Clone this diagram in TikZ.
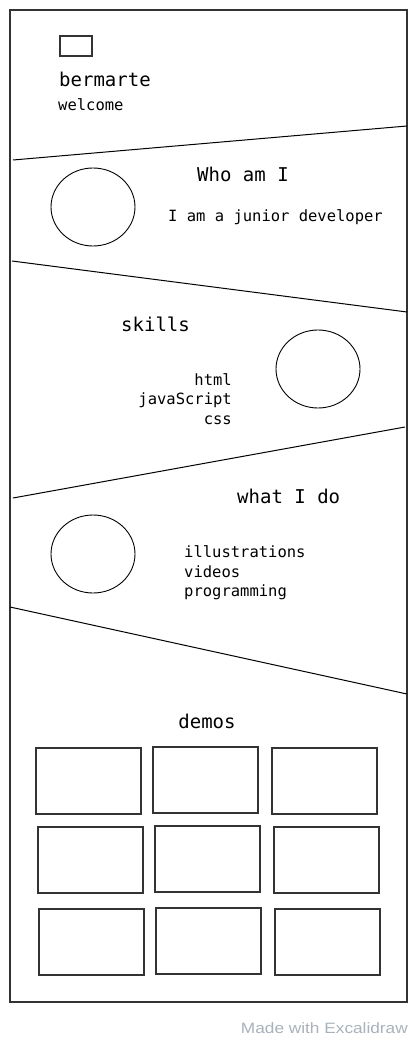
\documentclass[tikz,border=0pt]{standalone}
\usepackage{fontspec}
\setmainfont{DejaVu Sans Mono}
\newfontfamily\footfont{Liberation Sans}
\usepackage{xcolor}
\usepackage{graphicx}
\usepackage{tikz}
\usetikzlibrary{positioning}
\usetikzlibrary{shapes.geometric}
\definecolor{framegray}{HTML}{333333}
\definecolor{footgray}{HTML}{A9B1BA}
\tikzset{
	heading/.style={font=\fontsize{19}{24}\selectfont,inner sep=0pt},
	bodytext/.style={font=\fontsize{15.5}{20}\selectfont,inner sep=0pt},
	demobox/.style={draw=framegray,line width=1.2pt},
	photo/.style={draw,ellipse,line width=0.9pt,minimum width=84pt,minimum height=78pt,inner sep=0pt},
}

\begin{document}
\begin{tikzpicture}[x=1pt,y=-1pt]
		\useasboundingbox (0,0) rectangle (418,1040);
		\draw [framegray,line width=1.4pt](10,10) rectangle (407,1002);
		% header
		\draw [framegray,line width=1.1pt](60,36) rectangle (92,56);
		\node[heading,anchor=west] (name) at (59,79) {bermarte};
		\node[bodytext,anchor=west] (welcome) at (58,105) {welcome};
		\draw [line width=1pt](13,160) -- (407,126);
		% who am I
		\node[photo] (photo1) at (93,207) {};
		\node[heading] (who) at (243,174) {Who am I};
		\node[bodytext,anchor=west] (junior) at (168,217) {I am a junior developer};
		\draw [line width=1pt](12,261) -- (407,312);
		% skills
		\node[heading,anchor=west] (skills) at (121,324) {skills};
		\node[photo] (photo2) at (318,369) {};
		\node[bodytext,anchor=east] (html) at (232,380) {html};
		\node[bodytext,anchor=east] (js) at (232,400) {javaScript};
		\node[bodytext,anchor=east] (css) at (232,420) {css};
		\draw [line width=1pt](13,498) -- (405,427);
		% what I do
		\node[heading,anchor=west] (whatido) at (237,496) {what I do};
		\node[photo] (photo3) at (93,554) {};
		\node[bodytext,anchor=west] (illus) at (184,552) {illustrations};
		\node[bodytext,anchor=west] (videos) at (184,572) {videos};
		\node[bodytext,anchor=west] (prog) at (184,592) {programming};
		\draw [line width=1pt](10,607) -- (407,694);
		% demos
		\node[heading] (demos) at (207,721) {demos};
		\foreach \x/\y [count=\i] in {36/748,153/747,272/748,38/827,155/826,274/827,39/909,156/908,275/909}
			\draw [demobox](\x,\y) rectangle ++(105,66);
		\node[font=\footfont\fontsize{15}{17}\selectfont,text=footgray,anchor=east,inner sep=0pt] (made) at (408,1028) {\scalebox{1.15}[1]{Made with Excalidraw}};
	\end{tikzpicture}
\end{document}
